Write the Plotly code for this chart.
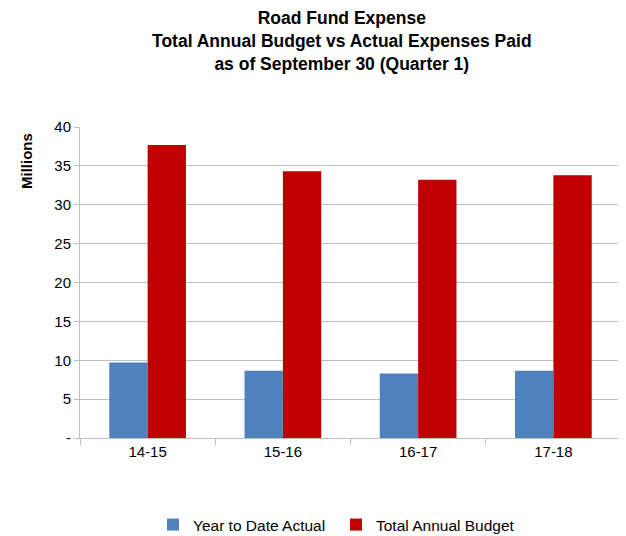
import plotly.graph_objects as go

categories = ["14-15", "15-16", "16-17", "17-18"]
ytd_actual = [9.7, 8.65, 8.3, 8.65]
annual_budget = [37.7, 34.3, 33.2, 33.8]
y_tickvals = [0, 5, 10, 15, 20, 25, 30, 35, 40]
y_ticktext = ["-", "5", "10", "15", "20", "25", "30", "35", "40"]

font_family = "Liberation Sans, Arial, sans-serif"

W, H = 618, 528
L, T, R, B = 72, 119, 5, 98
PW, PH = W - L - R, H - T - B

fig = go.Figure()
fig.add_trace(go.Bar(x=categories, y=ytd_actual, name="Year to Date Actual",
                     marker=dict(color="#4F81BD", line=dict(width=0))))
fig.add_trace(go.Bar(x=categories, y=annual_budget, name="Total Annual Budget",
                     marker=dict(color="#C00000", line=dict(width=0))))

fig.update_layout(
    width=W, height=H,
    paper_bgcolor="white", plot_bgcolor="white",
    margin=dict(l=L, r=R, t=T, b=B, autoexpand=False),
    barmode="group", bargap=0.433, bargroupgap=0,
    font=dict(family=font_family, size=15, color="#000000"),
    showlegend=True,
    legend=dict(orientation="h", x=(145 - L) / PW, xanchor="left",
                y=-(517 - (T + PH)) / PH, yanchor="middle",
                font=dict(family=font_family, size=15.5),
                entrywidth=138, entrywidthmode="pixels",
                traceorder="normal"),
    annotations=[
        dict(text="<b>Road Fund Expense<br>Total Annual Budget vs Actual Expenses Paid<br>as of September 30 (Quarter 1)</b>",
             xref="paper", yref="paper", x=(334 - L) / PW, y=1.0 + (T + 1) / PH,
             xanchor="center", yanchor="top", borderpad=0,
             showarrow=False, align="center",
             font=dict(family=font_family, size=17.5, color="#000000")),
        dict(text="<b>Millions</b>", xref="paper", yref="paper",
             x=(18 - L) / PW, y=1.0 - (153 - T) / PH, xanchor="center", yanchor="middle",
             textangle=-90, showarrow=False,
             font=dict(family=font_family, size=15, color="#000000")),
    ],
)
fig.update_yaxes(
    range=[0, 40], tickvals=y_tickvals, ticktext=y_ticktext,
    showgrid=True, gridcolor="#BFBFBF", gridwidth=1.3,
    showline=True, linecolor="#BFBFBF", linewidth=1,
    ticks="outside", ticklen=5, tickcolor="#BFBFBF",
    zeroline=False, automargin=False,
)
fig.update_xaxes(
    showline=True, linecolor="#BFBFBF", linewidth=1.3,
    ticks="outside", ticklen=6, tickcolor="#BFBFBF", tickson="boundaries",
    tickfont=dict(size=15), automargin=False,
)

fig.write_html("out.html")
